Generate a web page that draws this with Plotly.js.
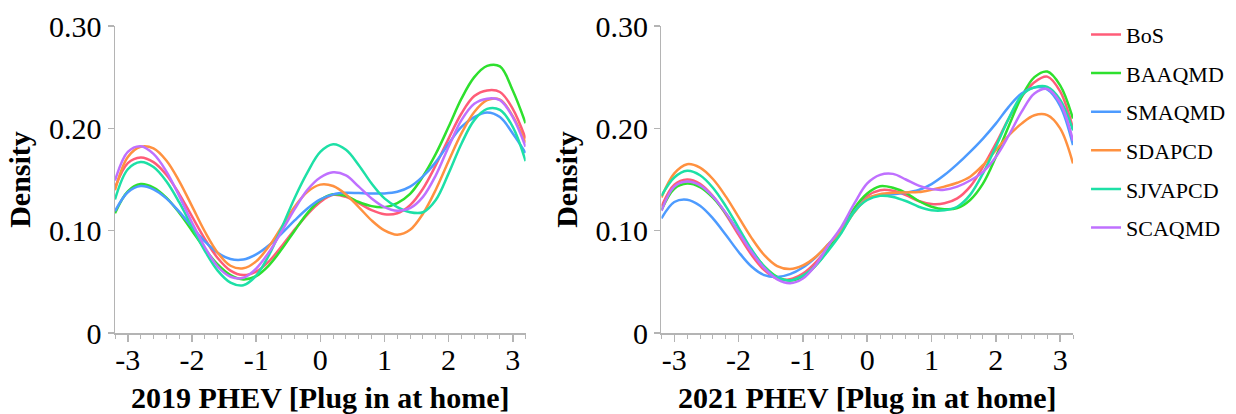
<!DOCTYPE html>
<html>
<head>
<meta charset="utf-8">
<script src="https://cdn.plot.ly/plotly-3.0.1.min.js"></script>
<style>html,body{margin:0;padding:0;background:#fff;}#chart{width:1236px;height:414px;}</style>
</head>
<body>
<div id="chart"></div>
<script>
// x positions (standardized score)
const xVals = [-3.2,-3.0,-2.8,-2.6,-2.4,-2.2,-2.0,-1.8,-1.6,-1.4,-1.2,-1.0,-0.8,-0.6,-0.4,-0.2,0,0.2,0.4,0.6,0.8,1.0,1.2,1.4,1.6,1.8,2.0,2.2,2.4,2.6,2.8,3.0,3.2];

const regions = ["BoS","BAAQMD","SMAQMD","SDAPCD","SJVAPCD","SCAQMD"];
const colors = ["#ff5c78","#2ee02e","#4d9bff","#ff9140","#1de0a6","#bf70ff"];

// 2019 densities
const bos2019    = [0.142,0.166,0.1716,0.167,0.1547,0.136,0.114,0.092,0.0733,0.061,0.0566,0.060,0.070,0.085,0.101,0.116,0.128,0.135,0.133,0.127,0.120,0.116,0.117,0.125,0.141,0.164,0.190,0.2145,0.2315,0.237,0.2355,0.219,0.190];
const baaqmd2019 = [0.117,0.1385,0.1455,0.1421,0.1323,0.1175,0.100,0.0822,0.067,0.0566,0.0524,0.0556,0.0662,0.082,0.100,0.1172,0.130,0.1355,0.134,0.128,0.124,0.123,0.127,0.136,0.153,0.175,0.2015,0.229,0.250,0.261,0.2605,0.237,0.205];
const smaqmd2019 = [0.119,0.1375,0.1436,0.1404,0.1316,0.1186,0.1037,0.0895,0.0784,0.0723,0.0718,0.0768,0.0857,0.0974,0.110,0.1217,0.1306,0.1355,0.137,0.1367,0.1364,0.1364,0.138,0.143,0.153,0.167,0.185,0.2015,0.211,0.2155,0.211,0.195,0.176];
const sdapcd2019 = [0.1396,0.172,0.182,0.1804,0.1686,0.1485,0.124,0.0992,0.0785,0.0657,0.0632,0.070,0.0847,0.104,0.1233,0.138,0.145,0.1436,0.1354,0.123,0.110,0.1002,0.096,0.1008,0.1165,0.140,0.168,0.195,0.216,0.2275,0.228,0.212,0.186];
const sjvapcd2019= [0.1305,0.160,0.167,0.1622,0.1483,0.1278,0.1038,0.0803,0.061,0.0493,0.0467,0.056,0.076,0.103,0.132,0.157,0.177,0.1845,0.179,0.164,0.146,0.1315,0.123,0.118,0.118,0.130,0.156,0.185,0.208,0.219,0.218,0.2015,0.168];
const scaqmd2019 = [0.149,0.177,0.1825,0.175,0.158,0.134,0.108,0.084,0.065,0.055,0.054,0.063,0.079,0.0995,0.121,0.140,0.152,0.157,0.154,0.143,0.1315,0.123,0.1195,0.122,0.133,0.154,0.182,0.208,0.224,0.229,0.2275,0.211,0.182];

// 2021 densities
const bos2021    = [0.1234,0.145,0.150,0.1458,0.1338,0.1161,0.0959,0.0765,0.0614,0.053,0.0525,0.058,0.069,0.084,0.100,0.120,0.1338,0.1395,0.139,0.1348,0.129,0.126,0.1267,0.1315,0.143,0.1624,0.185,0.2095,0.2307,0.245,0.2505,0.236,0.200];
const baaqmd2021 = [0.120,0.141,0.146,0.1425,0.1322,0.1169,0.0987,0.0805,0.0652,0.0549,0.0513,0.055,0.066,0.082,0.100,0.122,0.1364,0.1435,0.142,0.137,0.129,0.1234,0.121,0.122,0.130,0.146,0.172,0.202,0.2307,0.250,0.2555,0.242,0.2095];
const smaqmd2021 = [0.112,0.128,0.1303,0.1243,0.112,0.096,0.0792,0.065,0.0565,0.0548,0.0575,0.064,0.074,0.087,0.101,0.119,0.1315,0.1348,0.1357,0.137,0.1397,0.1455,0.1543,0.165,0.177,0.190,0.2046,0.221,0.234,0.240,0.238,0.222,0.1836];
const sdapcd2021 = [0.1325,0.156,0.165,0.1616,0.1505,0.1335,0.1132,0.093,0.0761,0.0654,0.0625,0.066,0.0745,0.087,0.100,0.118,0.1315,0.1357,0.137,0.1374,0.1377,0.140,0.143,0.1468,0.1527,0.164,0.1787,0.193,0.2046,0.2128,0.213,0.200,0.1657];
const sjvapcd2021= [0.134,0.152,0.1585,0.1542,0.142,0.124,0.1028,0.0818,0.0647,0.054,0.0514,0.056,0.066,0.081,0.098,0.1186,0.130,0.134,0.133,0.129,0.1234,0.120,0.120,0.1234,0.135,0.156,0.182,0.2095,0.232,0.240,0.2405,0.228,0.198];
const scaqmd2021 = [0.1195,0.143,0.148,0.1443,0.1335,0.1174,0.0984,0.0794,0.0633,0.0525,0.0487,0.0533,0.0665,0.086,0.104,0.1266,0.1462,0.1545,0.1555,0.150,0.144,0.1406,0.140,0.143,0.149,0.1575,0.172,0.193,0.216,0.234,0.2385,0.225,0.188];

const xTickVals = [-3,-2,-1,0,1,2,3];
const xTickText = ["-3","-2","-1","0","1","2","3"];
const yTickVals = [0,0.1,0.2,0.3];
const yTickText = ["0","0.10","0.20","0.30"];

const series2019 = [bos2019,baaqmd2019,smaqmd2019,sdapcd2019,sjvapcd2019,scaqmd2019];
const series2021 = [bos2021,baaqmd2021,smaqmd2021,sdapcd2021,sjvapcd2021,scaqmd2021];

const FONT = "Liberation Serif";
const traces = [];
series2019.forEach((ys,i)=>{
  traces.push({x:xVals,y:ys,type:"scatter",mode:"lines",name:regions[i],legendgroup:regions[i],
    showlegend:false,xaxis:"x",yaxis:"y",line:{color:colors[i],width:2.5,shape:"spline",smoothing:1}});
});
series2021.forEach((ys,i)=>{
  traces.push({x:xVals,y:ys,type:"scatter",mode:"lines",name:regions[i],legendgroup:regions[i],
    showlegend:true,xaxis:"x2",yaxis:"y2",line:{color:colors[i],width:2.5,shape:"spline",smoothing:1}});
});

const axisGrey = "#b4b4b4";
function xAxis(domain, title, anchor){
  return {domain:domain, anchor:anchor, range:[-3.2,3.2], tickmode:"array", tickvals:xTickVals, ticktext:xTickText,
    ticks:"outside", ticklen:7, tickwidth:1.5, tickcolor:axisGrey, showline:true, linecolor:axisGrey, linewidth:1.5,
    showgrid:false, zeroline:false, tickfont:{family:FONT,size:30,color:"#000"}, ticklabelstandoff:-8,
    minor:{dtick:0.2, tick0:0, ticks:"outside", ticklen:4, tickcolor:axisGrey, tickwidth:1, showgrid:false},
    title:{text:title, font:{family:FONT,size:30,color:"#000",weight:"bold"}, standoff:13}};
}
function yAxis(anchor){
  return {anchor:anchor, range:[0,0.3], tickmode:"array", tickvals:yTickVals, ticktext:yTickText,
    ticks:"outside", ticklen:6, tickwidth:1.5, tickcolor:axisGrey, showline:true, linecolor:axisGrey, linewidth:1.5,
    showgrid:false, zeroline:false, tickfont:{family:FONT,size:30,color:"#000"},
    title:{text:"Density", font:{family:FONT,size:30,color:"#000",weight:"bold"}, standoff:9}};
}

const layout = {
  width:1236, height:414,
  margin:{l:115, r:163, t:26, b:81, autoexpand:false},
  paper_bgcolor:"#fff", plot_bgcolor:"#fff",
  font:{family:FONT,color:"#000"},
  xaxis: xAxis([0,0.4286], "2019 PHEV [Plug in at home]", "y"),
  yaxis: yAxis("x"),
  xaxis2: xAxis([0.5704,1], "2021 PHEV [Plug in at home]", "y2"),
  yaxis2: yAxis("x2"),
  showlegend:true,
  legend:{x:1.0136, xanchor:"left", y:1.04, yanchor:"top", font:{family:FONT,size:22,color:"#000"},
    tracegroupgap:7, bgcolor:"rgba(0,0,0,0)", borderwidth:0, itemwidth:30, maxheight:380}
};

Plotly.newPlot("chart", traces, layout, {displayModeBar:false, staticPlot:true});
</script>
</body>
</html>
